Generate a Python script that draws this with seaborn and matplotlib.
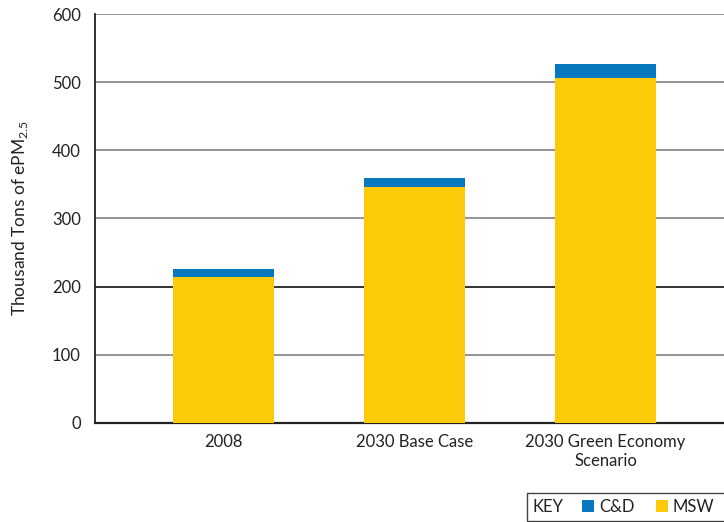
import numpy as np
import pandas as pd
import matplotlib
matplotlib.use("Agg")
import matplotlib.pyplot as plt
import seaborn as sns
from matplotlib.patches import Rectangle

categories = ["2008", "2030 Base Case", "2030 Green Economy\nScenario"]
msw = [214, 346, 506]
cd = [12, 13, 21]

BLUE = "#0878BE"
YELLOW = "#FCCA07"
INK = "#222222"

sns.set_style("white")
plt.rcParams["font.family"] = ["Lato", "DejaVu Sans"]
plt.rcParams["mathtext.fontset"] = "custom"
plt.rcParams["mathtext.rm"] = "Lato"

df = pd.DataFrame({"category": categories, "MSW": msw, "C&D": cd})
df["total"] = df["MSW"] + df["C&D"]

fig = plt.figure(figsize=(7.24, 5.22), dpi=100)
ax = fig.add_axes([0.131, 0.19, 0.869, 0.783])

# total bar in blue, MSW drawn over it
sns.barplot(data=df, x="category", y="total", color=BLUE, width=0.53,
            saturation=1, linewidth=0, ax=ax, zorder=3)
sns.barplot(data=df, x="category", y="MSW", color=YELLOW, width=0.53,
            saturation=1, linewidth=0, ax=ax, zorder=4)

ax.set_ylim(0, 600)
ax.set_xlim(-0.675, 2.62)
ax.set_yticks(range(0, 601, 100))
for v in range(100, 601, 100):
    ax.axhline(v, color=INK if v == 200 else "#8c8c8c", lw=1.3, zorder=1)

ax.set_xlabel("")
ax.set_ylabel("Thousand Tons of ePM$_{2.5}$", fontsize=12.5, color=INK, labelpad=16)
ax.tick_params(axis="both", length=0, labelsize=12, colors=INK)
ax.tick_params(axis="x", pad=8)
ax.tick_params(axis="y", pad=10)
for s in ["top", "right"]:
    ax.spines[s].set_visible(False)
ax.spines["left"].set_color(INK)
ax.spines["left"].set_linewidth(1.3)
ax.spines["bottom"].set_color(INK)
ax.spines["bottom"].set_linewidth(1.6)

# key box at bottom right
W, H = 724, 522
def fx(px): return px / W
def fy(py): return 1 - py / H

fig.add_artist(Rectangle((fx(527), fy(521)), fx(724) - fx(527) + 0.01, fy(493) - fy(521),
                         transform=fig.transFigure, facecolor="white",
                         edgecolor="#444444", lw=1.0))
fig.text(fx(532), fy(507), "KEY", fontsize=12, color=INK, va="center", ha="left")
for x0, col, lab in [(582, BLUE, "C&D"), (656, YELLOW, "MSW")]:
    fig.add_artist(Rectangle((fx(x0), fy(512)), fx(12), fy(500) - fy(512),
                             transform=fig.transFigure, facecolor=col, lw=0))
    fig.text(fx(x0 + 17), fy(507), lab, fontsize=12, color=INK, va="center", ha="left")

fig.savefig("out.png", dpi=100)
